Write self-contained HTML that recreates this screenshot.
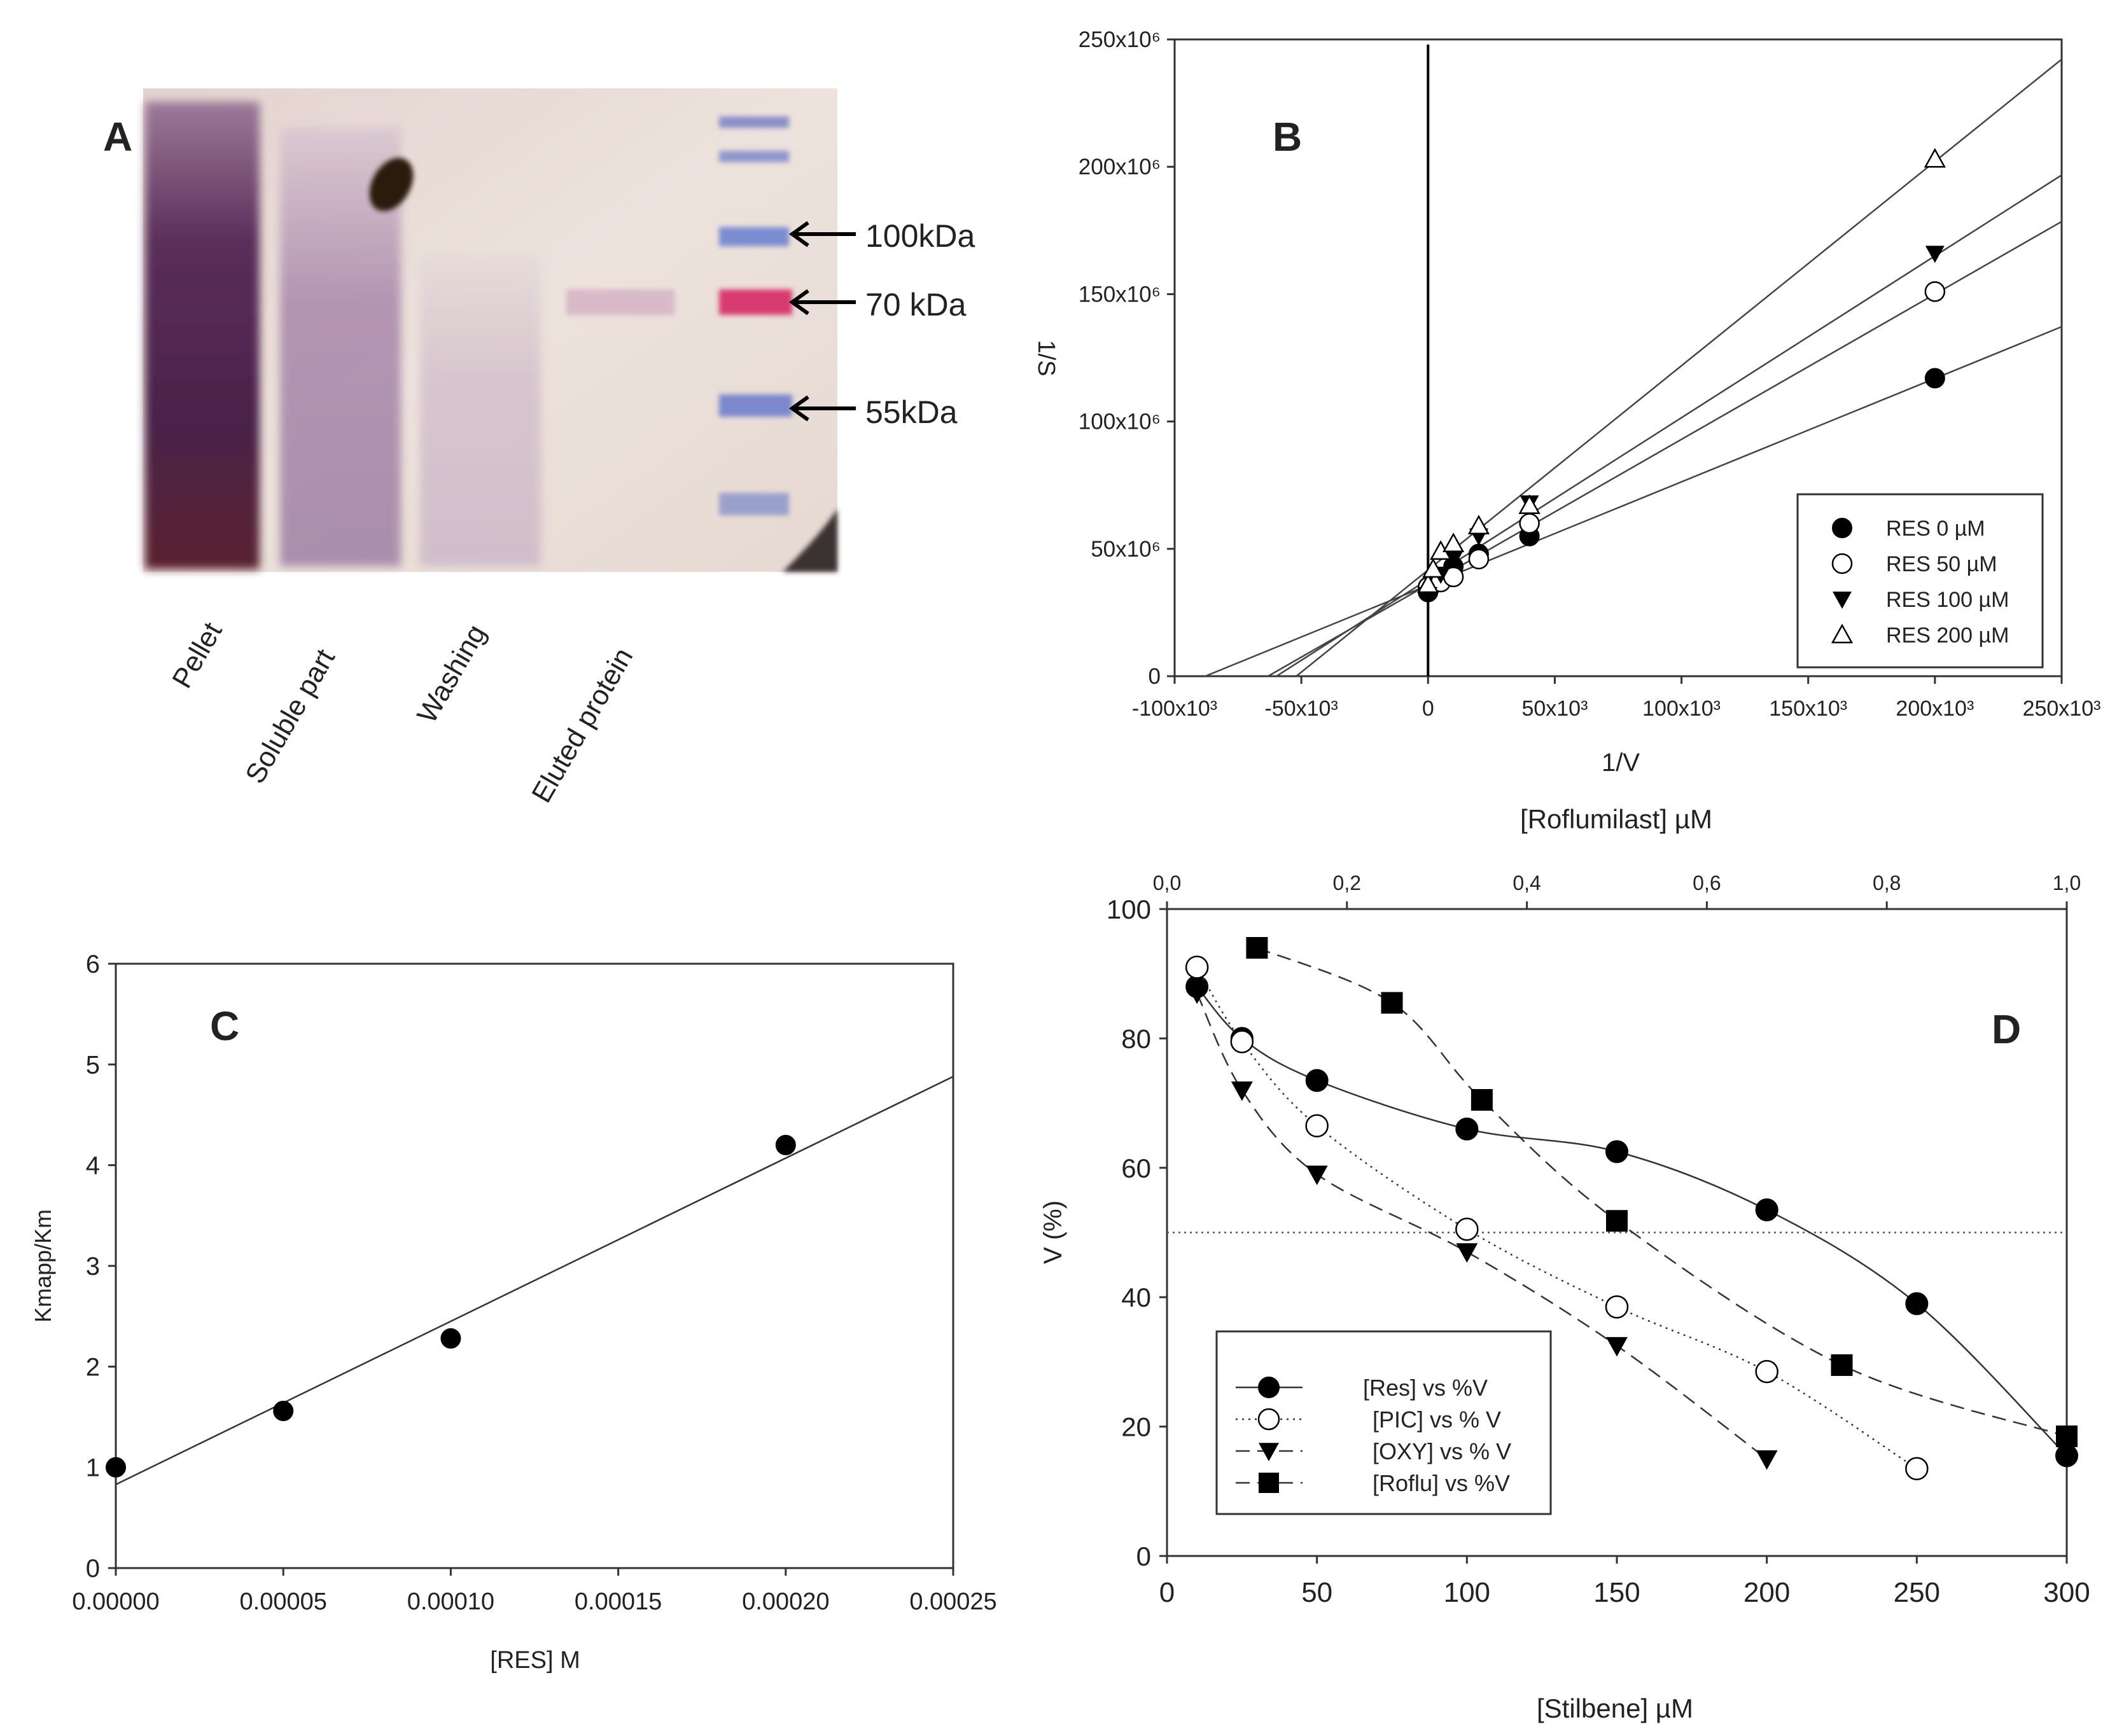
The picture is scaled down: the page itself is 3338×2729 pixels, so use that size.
<!DOCTYPE html>
<html><head><meta charset="utf-8"><style>
html,body{margin:0;padding:0;background:#fff}
svg{display:block}
text{font-family:"Liberation Sans",sans-serif;fill:#222}
</style></head><body>
<svg id="fig" width="3338" height="2729" viewBox="0 0 3338 2729" xmlns="http://www.w3.org/2000/svg">
<defs>
<filter id="blur" x="-20%" y="-20%" width="140%" height="140%"><feGaussianBlur stdDeviation="7"/></filter>
<filter id="blur2" x="-20%" y="-50%" width="140%" height="200%"><feGaussianBlur stdDeviation="4"/></filter>
<linearGradient id="gelbg" x1="0" y1="0" x2="1" y2="1"><stop offset="0" stop-color="#e3d3cf"/><stop offset="0.5" stop-color="#ede2dc"/><stop offset="1" stop-color="#e6d9d2"/></linearGradient>
<linearGradient id="lane1" x1="0" y1="0" x2="0" y2="1"><stop offset="0" stop-color="#9c7a98"/><stop offset="0.3" stop-color="#5a2e5a"/><stop offset="0.7" stop-color="#4a2148"/><stop offset="1" stop-color="#5a2030"/></linearGradient>
<linearGradient id="lane2" x1="0" y1="0" x2="0" y2="1"><stop offset="0" stop-color="#d8c6d0"/><stop offset="0.4" stop-color="#a583a8"/><stop offset="1" stop-color="#9a7aa0"/></linearGradient>
<linearGradient id="lane3" x1="0" y1="0" x2="0" y2="1"><stop offset="0" stop-color="#e6dbd8"/><stop offset="0.4" stop-color="#d2bfcc"/><stop offset="1" stop-color="#cbb6c8"/></linearGradient>
</defs>

<!-- PANEL A -->
<g>
<rect x="225" y="139" width="1091" height="760" fill="url(#gelbg)"/>
<rect x="228" y="160" width="180" height="735" fill="url(#lane1)" filter="url(#blur)"/>
<rect x="440" y="200" width="190" height="690" fill="url(#lane2)" filter="url(#blur)" opacity="0.8"/>
<rect x="660" y="400" width="190" height="490" fill="url(#lane3)" filter="url(#blur)" opacity="0.8"/>
<rect x="890" y="455" width="170" height="40" fill="#d8b9c8" filter="url(#blur2)"/>
<ellipse cx="615" cy="290" rx="30" ry="45" fill="#2a1a10" filter="url(#blur2)" transform="rotate(30 615 290)"/>
<g filter="url(#blur2)">
<rect x="1130" y="183" width="110" height="18" fill="#8c90c8"/>
<rect x="1130" y="237" width="110" height="18" fill="#9098cc"/>
<rect x="1130" y="357" width="110" height="30" fill="#7c8cd0"/>
<rect x="1130" y="455" width="115" height="40" fill="#d83a70"/>
<rect x="1130" y="620" width="115" height="35" fill="#7c88cc"/>
<rect x="1130" y="775" width="110" height="35" fill="#9aa0cc"/>
</g>
<path d="M1230 899 Q1290 840 1316 800 L1316 899 Z" fill="#3a3030" filter="url(#blur2)"/>
<text x="162" y="237" font-size="64" font-weight="bold" fill="#000">A</text>
<g stroke="#000" stroke-width="6" fill="none">
<path d="M1245 368 H1345 M1270 350 L1245 368 L1270 386"/>
<path d="M1245 475 H1345 M1270 457 L1245 475 L1270 493"/>
<path d="M1245 642 H1345 M1270 624 L1245 642 L1270 660"/>
</g>
<text x="1360" y="388" font-size="50" fill="#111">100kDa</text>
<text x="1360" y="496" font-size="50" fill="#111">70 kDa</text>
<text x="1360" y="665" font-size="50" fill="#111">55kDa</text>
<g font-size="44" fill="#111">
<text transform="translate(295 1085) rotate(-60)">Pellet</text>
<text transform="translate(410 1235) rotate(-60)">Soluble part</text>
<text transform="translate(680 1140) rotate(-60)">Washing</text>
<text transform="translate(860 1265) rotate(-60)">Eluted protein</text>
</g>
</g>

<g id="panelB"></g>
<g id="panelC"></g>
<g id="panelD"></g>
</svg>

<script>
// ---------- Panel B data ----------
const bSeriesNames = ["RES 0 \u00b5M","RES 50 \u00b5M","RES 100 \u00b5M","RES 200 \u00b5M"];
const bRES0x = [0,5e3,10e3,20e3,40e3,200e3];
const bRES0y = [33e6,38e6,43e6,48e6,55e6,117e6];
const bRES50x = [0,5e3,10e3,20e3,40e3,200e3];
const bRES50y = [35e6,37e6,39e6,46e6,60e6,151e6];
const bRES100x = [0,5e3,10e3,20e3,40e3,200e3];
const bRES100y = [32e6,40e6,46e6,55e6,68e6,166e6];
const bRES200x = [0,2e3,5e3,10e3,20e3,40e3,200e3];
const bRES200y = [36e6,42e6,49e6,52e6,59e6,67e6,203e6];
const bFitIntercept = [35.7e6,36e6,38e6,41.7e6];
const bFitSlope = [406,570,635,802];
const bXTicks = [-100e3,-50e3,0,50e3,100e3,150e3,200e3,250e3];
const bXTickLabels = ["-100x10\u00b3","-50x10\u00b3","0","50x10\u00b3","100x10\u00b3","150x10\u00b3","200x10\u00b3","250x10\u00b3"];
const bYTicks = [0,50e6,100e6,150e6,200e6,250e6];
const bYTickLabels = ["0","50x10\u2076","100x10\u2076","150x10\u2076","200x10\u2076","250x10\u2076"];

// ---------- Panel C data ----------
const cX = [0,0.00005,0.0001,0.0002];
const cY = [1.0,1.56,2.28,4.2];
const cFit = [0.83,16200];
const cXTicks = [0,0.00005,0.0001,0.00015,0.0002,0.00025];
const cXTickLabels = ["0.00000","0.00005","0.00010","0.00015","0.00020","0.00025"];
const cYTicks = [0,1,2,3,4,5,6];

// ---------- Panel D data ----------
const dResX = [10,25,50,100,150,200,250,300];
const dResY = [88,80,73.5,66,62.5,53.5,39,15.5];
const dPicX = [10,25,50,100,150,200,250];
const dPicY = [91,79.5,66.5,50.5,38.5,28.5,13.5];
const dOxyX = [10,25,50,100,150,200];
const dOxyY = [87,72,59,47,32.5,15];
const dRofX = [30,75,105,150,225,300];
const dRofY = [94,85.5,70.5,51.8,29.5,18.5];
const dLegend = ["[Res] vs %V","[PIC] vs % V","[OXY] vs % V","[Roflu] vs %V"];
const dXTicks = [0,50,100,150,200,250,300];
const dTopTicks = [0,0.2,0.4,0.6,0.8,1.0];
const dTopLabels = ["0,0","0,2","0,4","0,6","0,8","1,0"];
const dYTicks = [0,20,40,60,80,100];
const dHalf = [50];

const NS="http://www.w3.org/2000/svg";
function mk(parent,tag,attrs,txt){const e=document.createElementNS(NS,tag);for(const k in attrs)e.setAttribute(k,attrs[k]);if(txt!==undefined)e.textContent=txt;parent.appendChild(e);return e;}
function lin(d0,d1,r0,r1){return v=>r0+(v-d0)*(r1-r0)/(d1-d0);}
function marker(g,type,x,y,r){
  let e;
  if(type==="fcircle"){e=mk(g,"circle",{cx:x,cy:y,r:r,fill:"#000",stroke:"#000","stroke-width":2});}
  else if(type==="ocircle"){e=mk(g,"circle",{cx:x,cy:y,r:r,fill:"#fff",stroke:"#000","stroke-width":2.5});}
  else if(type==="dtri"){e=mk(g,"polygon",{points:`${x-r},${y-r*0.8} ${x+r},${y-r*0.8} ${x},${y+r}`,fill:"#000"});}
  else if(type==="otri"){e=mk(g,"polygon",{points:`${x-r},${y+r*0.8} ${x+r},${y+r*0.8} ${x},${y-r}`,fill:"#fff",stroke:"#000","stroke-width":2.5});}
  else {e=mk(g,"rect",{x:x-r,y:y-r,width:2*r,height:2*r,fill:"#000"});}
  return e;
}
function spline(pts){
  let d=`M${pts[0][0]},${pts[0][1]}`;
  for(let i=0;i<pts.length-1;i++){
    const p0=pts[Math.max(0,i-1)],p1=pts[i],p2=pts[i+1],p3=pts[Math.min(pts.length-1,i+2)];
    const c1=[p1[0]+(p2[0]-p0[0])/6,p1[1]+(p2[1]-p0[1])/6];
    const c2=[p2[0]-(p3[0]-p1[0])/6,p2[1]-(p3[1]-p1[1])/6];
    d+=` C${c1[0]},${c1[1]} ${c2[0]},${c2[1]} ${p2[0]},${p2[1]}`;
  }
  return d;
}

// ===== Panel B =====
(function(){
  const g=document.getElementById("panelB");
  const L=1846,R=3240,T=62,B=1063;
  const X=lin(-100e3,250e3,L,R),Y=lin(0,250e6,B,T);
  const frame=mk(g,"rect",{x:L,y:T,width:R-L,height:B-T,fill:"none",stroke:"#333","stroke-width":3});
  
  
  const vl=mk(g,"line",{x1:X(0),y1:T+8,x2:X(0),y2:B,stroke:"#000","stroke-width":4});
  
  
  bXTicks.forEach((t,i)=>{
    mk(g,"line",{x1:X(t),y1:B,x2:X(t),y2:B+12,stroke:"#333","stroke-width":3});
    const tx=mk(g,"text",{x:X(t),y:B+62,"font-size":34,"text-anchor":"middle"},bXTickLabels[i]);
    
    
  });
  bYTicks.forEach((t,i)=>{
    mk(g,"line",{x1:L-12,y1:Y(t),x2:L,y2:Y(t),stroke:"#333","stroke-width":3});
    const tx=mk(g,"text",{x:L-22,y:Y(t)+12,"font-size":35,"text-anchor":"end"},bYTickLabels[i]);
    
    
  });
  bFitIntercept.forEach((b0,i)=>{
    const s=bFitSlope[i];
    const x0=-b0/s;
    const ln=mk(g,"line",{x1:X(x0),y1:Y(0),x2:X(250e3),y2:Y(b0+s*250e3),stroke:"#444","stroke-width":2.5});
    
    
  });
  const sets=[[bRES0x,bRES0y,"fcircle"],[bRES50x,bRES50y,"ocircle"],[bRES100x,bRES100y,"dtri"],[bRES200x,bRES200y,"otri"]];
  sets.forEach(([xs,ys,tp])=>{
    xs.forEach((x,j)=>{
      const m=marker(g,tp,X(x),Y(ys[j]),15);
      
      
    });
  });
  const lg=mk(g,"rect",{x:2825,y:777,width:385,height:272,fill:"#fff",stroke:"#333","stroke-width":3});
  
  
  const types=["fcircle","ocircle","dtri","otri"];
  bSeriesNames.forEach((n,i)=>{
    const y=830+i*56;
    marker(g,types[i],2895,y,15);
    const t=mk(g,"text",{x:2964,y:y+12,"font-size":34},n);
    
    
  });
  const bl=mk(g,"text",{x:2000,y:237,"font-size":64,"font-weight":"bold",fill:"#000"},"B");
  
  
  const yt=mk(g,"text",{transform:"translate(1632 563) rotate(90)","font-size":38,"text-anchor":"middle"},"1/S");
  
  
  const xt=mk(g,"text",{x:2547,y:1212,"font-size":40,"text-anchor":"middle"},"1/V");
  
  
})();

// ===== Panel C =====
(function(){
  const g=document.getElementById("panelC");
  const L=182,R=1498,T=1515,B=2465;
  const X=lin(0,0.00025,L,R),Y=lin(0,6,B,T);
  const fr=mk(g,"rect",{x:L,y:T,width:R-L,height:B-T,fill:"none",stroke:"#333","stroke-width":3});
  
  
  cXTicks.forEach((t,i)=>{
    mk(g,"line",{x1:X(t),y1:B,x2:X(t),y2:B+12,stroke:"#333","stroke-width":3});
    const tx=mk(g,"text",{x:X(t),y:B+65,"font-size":38,"text-anchor":"middle"},cXTickLabels[i]);
    
    
  });
  cYTicks.forEach(t=>{
    mk(g,"line",{x1:L-12,y1:Y(t),x2:L,y2:Y(t),stroke:"#333","stroke-width":3});
    const tx=mk(g,"text",{x:L-25,y:Y(t)+14,"font-size":40,"text-anchor":"end"},String(t));
    
    
  });
  const fl=mk(g,"line",{x1:X(0),y1:Y(cFit[0]),x2:X(0.00025),y2:Y(cFit[0]+cFit[1]*0.00025),stroke:"#333","stroke-width":2.5});
  
  
  cX.forEach((x,i)=>{
    const m=marker(g,"fcircle",X(x),Y(cY[i]),15);
    
    
  });
  const cl=mk(g,"text",{x:330,y:1635,"font-size":64,"font-weight":"bold",fill:"#000"},"C");
  
  
  const yt=mk(g,"text",{transform:"translate(80 1990) rotate(-90)","font-size":36,"text-anchor":"middle"},"Kmapp/Km");
  
  
  const xt=mk(g,"text",{x:841,y:2622,"font-size":38,"text-anchor":"middle"},"[RES] M");
  
  
})();

// ===== Panel D =====
(function(){
  const g=document.getElementById("panelD");
  const L=1834,R=3248,T=1429,B=2446;
  const X=lin(0,300,L,R),Y=lin(0,100,B,T),XT=lin(0,1,L,R);
  const fr=mk(g,"rect",{x:L,y:T,width:R-L,height:B-T,fill:"none",stroke:"#333","stroke-width":3});
  
  
  dXTicks.forEach(t=>{
    mk(g,"line",{x1:X(t),y1:B,x2:X(t),y2:B+12,stroke:"#333","stroke-width":3});
    const tx=mk(g,"text",{x:X(t),y:B+72,"font-size":44,"text-anchor":"middle"},String(t));
    
    
  });
  dTopTicks.forEach((t,i)=>{
    mk(g,"line",{x1:XT(t),y1:T-12,x2:XT(t),y2:T,stroke:"#333","stroke-width":3});
    const tx=mk(g,"text",{x:XT(t),y:T-30,"font-size":32,"text-anchor":"middle"},dTopLabels[i]);
    
    
  });
  dYTicks.forEach(t=>{
    mk(g,"line",{x1:L-12,y1:Y(t),x2:L,y2:Y(t),stroke:"#333","stroke-width":3});
    const tx=mk(g,"text",{x:L-25,y:Y(t)+15,"font-size":42,"text-anchor":"end"},String(t));
    
    
  });
  const hl=mk(g,"line",{x1:L,y1:Y(dHalf[0]),x2:R,y2:Y(dHalf[0]),stroke:"#555","stroke-width":2.5,"stroke-dasharray":"3 6"});
  
  
  const sets=[[dResX,dResY,"fcircle","none"],[dPicX,dPicY,"ocircle","3 7"],[dOxyX,dOxyY,"dtri","22 12"],[dRofX,dRofY,"square","22 12"]];
  sets.forEach(([xs,ys,tp,dash])=>{
    const pts=xs.map((x,j)=>[X(x),Y(ys[j])]);
    const p=mk(g,"path",{d:spline(pts),fill:"none",stroke:"#333","stroke-width":2.5,"stroke-dasharray":dash});
    
    
    pts.forEach(pt=>{
      const m=marker(g,tp,pt[0],pt[1],17);
      
      
    });
  });
  const lg=mk(g,"rect",{x:1912,y:2093,width:525,height:287,fill:"#fff",stroke:"#333","stroke-width":3});
  
  
  const types=["fcircle","ocircle","dtri","square"],dashes=["none","3 7","22 12","22 12"];
  dLegend.forEach((n,i)=>{
    const y=2181+i*50;
    mk(g,"line",{x1:1942,y1:y,x2:2047,y2:y,stroke:"#333","stroke-width":2.5,"stroke-dasharray":dashes[i]});
    marker(g,types[i],1994,y,16);
    const t=mk(g,"text",{x:[2142,2157,2157,2157][i],y:y+13,"font-size":36},n);
    
    
  });
  const dl=mk(g,"text",{x:3130,y:1640,"font-size":64,"font-weight":"bold",fill:"#000"},"D");
  
  
  const yt=mk(g,"text",{transform:"translate(1668 1937) rotate(-90)","font-size":40,"text-anchor":"middle"},"V (%)");
  
  
  const xt=mk(g,"text",{x:2538,y:2700,"font-size":42,"text-anchor":"middle"},"[Stilbene] \u00b5M");
  
  
  const tt=mk(g,"text",{x:2540,y:1302,"font-size":42,"text-anchor":"middle"},"[Roflumilast] \u00b5M");
  
  
})();
</script>
</body></html>
